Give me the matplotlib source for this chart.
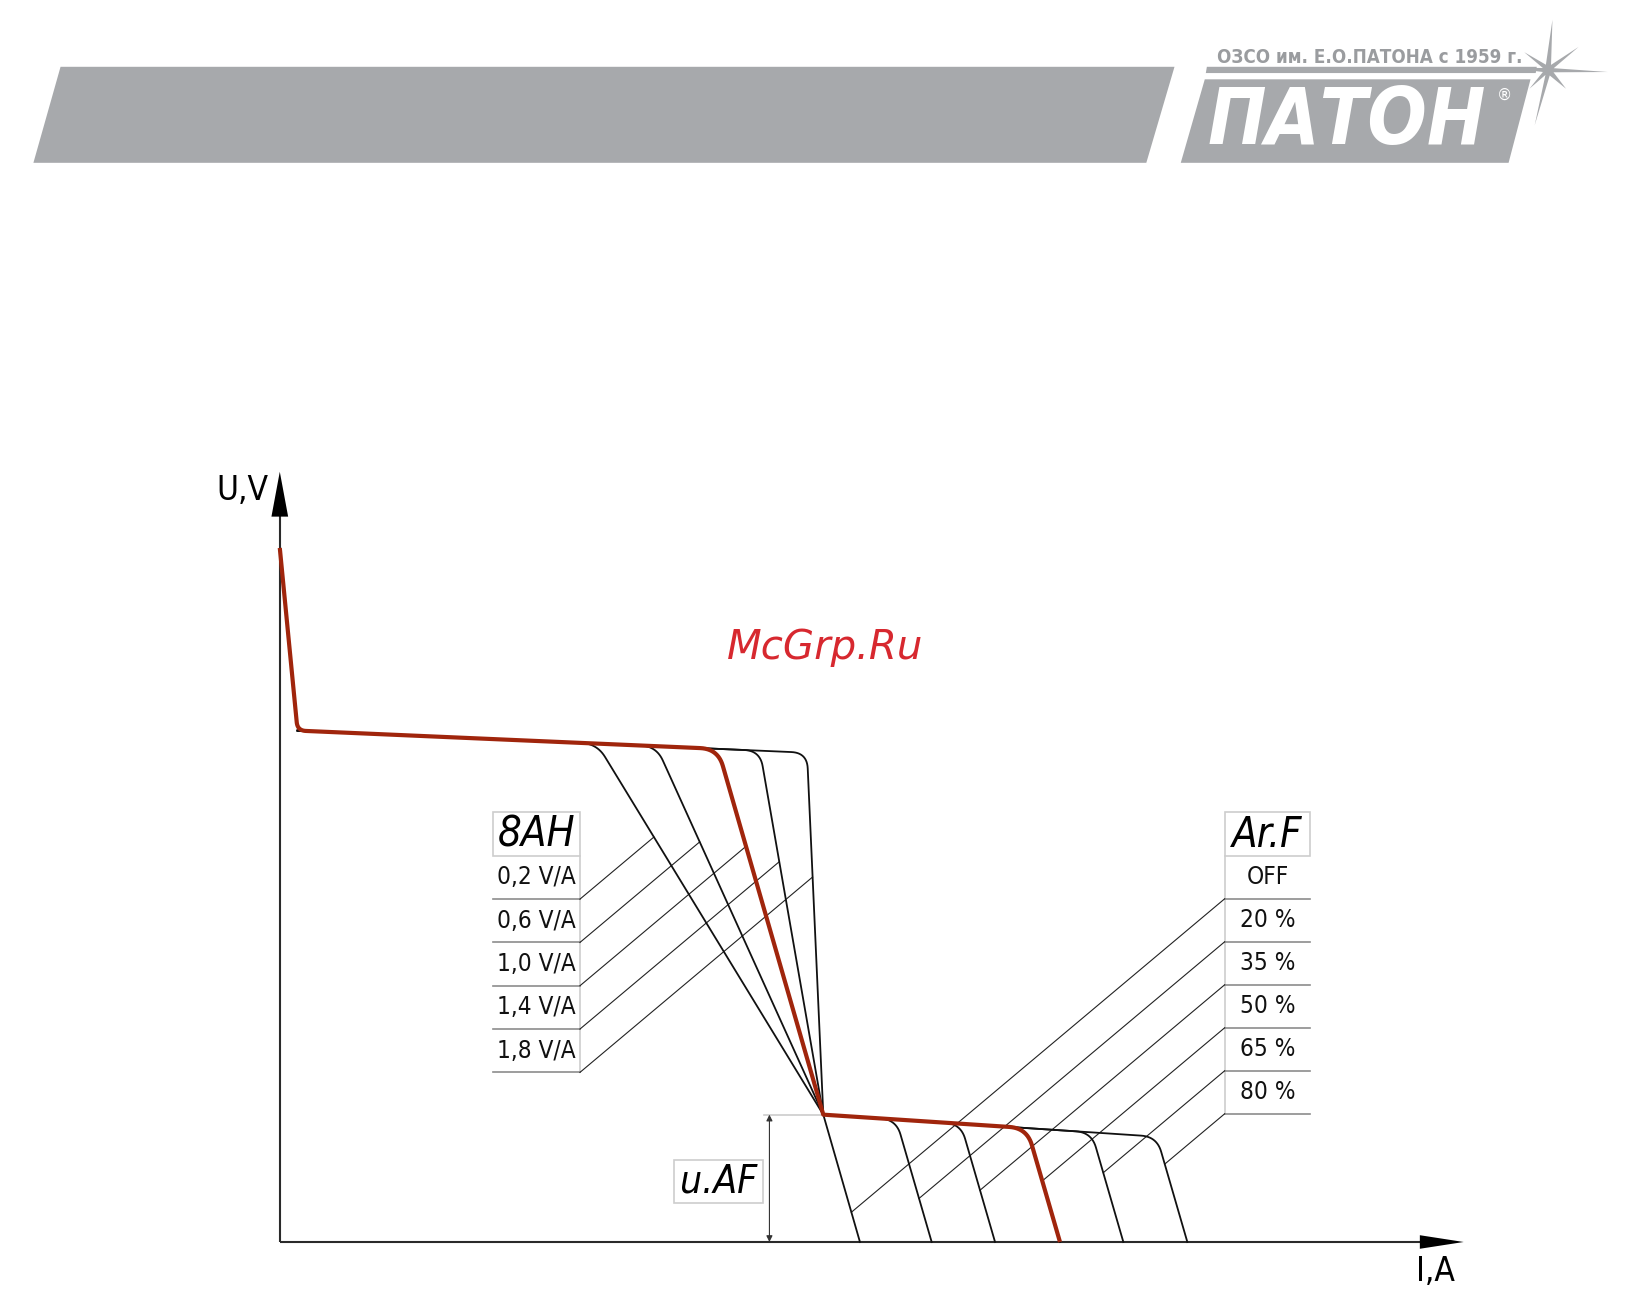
#!/usr/bin/env python3
from __future__ import annotations

import matplotlib

matplotlib.use("Agg")
import matplotlib.pyplot as plt
from matplotlib.patches import Polygon, Rectangle
import numpy as np


# Volt-ampere characteristic, in units along the I and U axes
U_OPEN = 66.5
TOP_START = (1.7, 49.0)
TOP_SLOPE = -0.0435
CROSS_POINT = (52.06, 12.2)
LOWER_SLOPE = -0.066
ARC_DI_DU = 0.29

DROOP_LABELS = ["0,2 V/A", "0,6 V/A", "1,0 V/A", "1,4 V/A", "1,8 V/A"]
DROOP_DI_DU = [0.61, 0.453, 0.288, 0.174, 0.045]
ARC_LABELS = ["OFF", "20 %", "35 %", "50 %", "65 %", "80 %"]
ARC_END_I = [55.57, 62.44, 68.51, 74.73, 80.80, 86.93]
ACTIVE_DROOP = 2
ACTIVE_ARC = 3

I_TIP = 113.4
U_TIP = 73.8
X_LIM = (-26.8, 130.0)
Y_LIM = (-4.6, 119.0)

VAH_BOX = {"left": 20.4, "right": 28.75, "top": 41.2, "header": 37.0, "row": 4.15}
ARF_BOX = {"left": 90.5, "right": 98.7, "top": 41.2, "header": 37.0, "row": 4.12}
LEADER_SLOPE = 0.84

# header graphics
BAND = [(-23.6, 103.4), (-21.0, 112.6), (85.7, 112.6), (83.0, 103.4)]
LOGO_BOX = [(86.3, 103.4), (88.6, 111.4), (119.8, 111.4), (117.7, 103.4)]
LOGO_STRIP = [(88.7, 112.0), (88.8, 112.6), (120.4, 112.6), (120.3, 112.0)]
STAR_CENTER = (121.5, 112.3)
STAR_RAYS = [(0.4, 4.8), (2.9, 2.2), (5.7, -0.2), (1.7, -1.8), (-1.3, -5.3), (-1.8, -1.8), (-3.8, 0.2), (-2.3, 1.7)]

RED = "#A0250C"
GRAY = "#A7A9AC"
FONT = "DejaVu Sans"


def _rounded(points, radii, n=14):
    pts = np.asarray(points, dtype=float)
    out = [pts[0]]
    for k in range(1, len(pts) - 1):
        p0, p1, p2 = pts[k - 1], pts[k], pts[k + 1]
        r = radii[k]
        if r <= 0:
            out.append(p1)
            continue
        v1, v2 = p0 - p1, p2 - p1
        l1, l2 = np.hypot(*v1), np.hypot(*v2)
        r = min(r, l1 / 2, l2 / 2)
        a, b = p1 + v1 / l1 * r, p1 + v2 / l2 * r
        t = np.linspace(0, 1, n)[:, None]
        out.extend((1 - t) ** 2 * a + 2 * (1 - t) * t * p1 + t ** 2 * b)
    out.append(pts[-1])
    return np.array(out)


def _droop_corner(d):
    i0, u0 = TOP_START
    ic, uc = CROSS_POINT
    i = (ic - d * (u0 - TOP_SLOPE * i0 - uc)) / (1 + d * TOP_SLOPE)
    return i, u0 + TOP_SLOPE * (i - i0)


def _arc_corner(end):
    ic, uc = CROSS_POINT
    a = ARC_DI_DU
    i = (end - a * (uc - LOWER_SLOPE * ic)) / (1 + a * LOWER_SLOPE)
    return i, uc + LOWER_SLOPE * (i - ic)


def _arc_di_du(k):
    if k == 0:
        return (ARC_END_I[0] - CROSS_POINT[0]) / CROSS_POINT[1]
    return ARC_DI_DU


def _draw_header(ax):
    ax.add_patch(Polygon(BAND, closed=True, facecolor=GRAY, edgecolor="none"))
    ax.add_patch(Polygon(LOGO_BOX, closed=True, facecolor=GRAY, edgecolor="none"))
    ax.add_patch(Polygon(LOGO_STRIP, closed=True, facecolor=GRAY, edgecolor="none"))
    cx, cy = STAR_CENTER
    star = []
    angles = [np.arctan2(dy, dx) for dx, dy in STAR_RAYS]
    for k, (dx, dy) in enumerate(STAR_RAYS):
        star.append((cx + dx, cy + dy))
        mid = (angles[k] + angles[(k + 1) % len(angles)]) / 2
        if angles[(k + 1) % len(angles)] > angles[k]:
            mid += np.pi
        star.append((cx + 0.55 * np.cos(mid), cy + 0.55 * np.sin(mid)))
    ax.add_patch(Polygon(star, closed=True, facecolor=GRAY, edgecolor="none"))
    ax.text(104.4, 113.5, "ОЗСО им. Е.О.ПАТОНА с 1959 г.", family=FONT, fontstretch="condensed",
            fontweight="bold", fontsize=13.5, color="#9A9C9F", ha="center", va="center")
    ax.text(102.2, 107.3, "ПАТОН", family=FONT, fontstretch="condensed", fontweight="bold",
            style="italic", fontsize=56, color="white", ha="center", va="center")
    ax.text(117.3, 109.9, "®", family=FONT, fontsize=11, color="white", ha="center", va="center")


def _draw_axes(ax):
    ax.plot([0, 0], [0, U_TIP - 4.0], color="#2A2A2A", lw=1.5, solid_capstyle="butt", zorder=2)
    ax.plot([0, I_TIP - 4.0], [0, 0], color="#2A2A2A", lw=1.5, solid_capstyle="butt", zorder=2)
    ax.add_patch(Polygon([(0, U_TIP), (-0.8, U_TIP - 4.3), (0.8, U_TIP - 4.3)], closed=True,
                         facecolor="black", edgecolor="none", zorder=3))
    ax.add_patch(Polygon([(I_TIP, 0), (I_TIP - 4.2, 0.65), (I_TIP - 4.2, -0.65)], closed=True,
                         facecolor="black", edgecolor="none", zorder=3))
    ax.text(-3.6, 72.0, "U,V", family=FONT, fontstretch="condensed", fontsize=24, ha="center", va="center")
    ax.text(110.7, -2.8, "I,A", family=FONT, fontstretch="condensed", fontsize=24, ha="center", va="center")


def _draw_curves(ax):
    for d in DROOP_DI_DU:
        pts = _rounded([TOP_START, _droop_corner(d), CROSS_POINT], [0, 1.5, 0])
        ax.plot(pts[:, 0], pts[:, 1], color="#111111", lw=1.3, zorder=4)
    for k, end in enumerate(ARC_END_I):
        if k == 0:
            pts = np.array([CROSS_POINT, (end, 0.0)])
        else:
            pts = _rounded([CROSS_POINT, _arc_corner(end), (end, 0.0)], [0, 1.5, 0])
        ax.plot(pts[:, 0], pts[:, 1], color="#111111", lw=1.3, zorder=4)

    red = _rounded(
        [(0.0, U_OPEN), TOP_START, _droop_corner(DROOP_DI_DU[ACTIVE_DROOP]), CROSS_POINT,
         _arc_corner(ARC_END_I[ACTIVE_ARC]), (ARC_END_I[ACTIVE_ARC], 0.0)],
        [0, 0.8, 1.7, 0, 1.7, 0],
    )
    ax.plot(red[:, 0], red[:, 1], color=RED, lw=3.0, zorder=5, solid_capstyle="butt")


def _draw_table(ax, box, labels, header, vertical_at):
    left, right, top, hdr, row = box["left"], box["right"], box["top"], box["header"], box["row"]
    ax.add_patch(Rectangle((left, hdr), right - left, top - hdr, facecolor="white",
                           edgecolor="#CDCDCD", lw=1.2, zorder=3))
    ax.text((left + right) / 2, (top + hdr) / 2 - 0.1, header, family=FONT, fontstretch="condensed",
            fontweight="light", style="italic", fontsize=30, ha="center", va="center", zorder=4)
    bottom = hdr - row * len(labels)
    ax.plot([vertical_at, vertical_at], [hdr, bottom], color="#CDCDCD", lw=1.2, zorder=3)
    bottoms = []
    for k, label in enumerate(labels):
        yb = hdr - row * (k + 1)
        bottoms.append(yb)
        ax.plot([left, right], [yb, yb], color="#8C8C8C", lw=1.2, zorder=3)
        ax.text((left + right) / 2, yb + row / 2, label, family=FONT, fontstretch="condensed",
                fontsize=17.5, color="#111111", ha="center", va="center", zorder=4)
    return bottoms


def _draw_leaders(ax):
    ic, uc = CROSS_POINT
    m = LEADER_SLOPE
    x0 = VAH_BOX["right"]
    bottoms = _draw_table(ax, VAH_BOX, DROOP_LABELS, "8AH", x0)
    for d, y0 in zip(DROOP_DI_DU, bottoms):
        i = (ic - d * (y0 - m * x0 - uc)) / (1 + d * m)
        ax.plot([x0, i], [y0, y0 + m * (i - x0)], color="#222222", lw=0.8, zorder=3)

    x0 = ARF_BOX["left"]
    bottoms = _draw_table(ax, ARF_BOX, ARC_LABELS, "Ar.F", x0)
    for k, (end, y0) in enumerate(zip(ARC_END_I, bottoms)):
        a = _arc_di_du(k)
        i = (end - a * (y0 - m * x0)) / (1 + a * m)
        ax.plot([x0, i], [y0, y0 + m * (i - x0)], color="#222222", lw=0.8, zorder=3)


def _draw_uaf(ax):
    ic, uc = CROSS_POINT
    ax.add_patch(Rectangle((37.8, 3.7), 8.5, 4.2, facecolor="white", edgecolor="#CDCDCD", lw=1.2, zorder=3))
    ax.text(42.05, 5.75, "u.AF", family=FONT, fontstretch="condensed", fontweight="light", style="italic",
            fontsize=28, ha="center", va="center", zorder=4)
    ax.plot([46.4, ic], [uc, uc], color="#CCCCCC", lw=1.2, zorder=2)
    ax.annotate("", xy=(46.9, 0.0), xytext=(46.9, uc),
                arrowprops=dict(arrowstyle="<|-|>", color="#333333", lw=0.8, mutation_scale=9,
                                shrinkA=0, shrinkB=0), zorder=3)


def main() -> None:
    fig = plt.figure(figsize=(16.37, 12.90), dpi=100)
    fig.patch.set_facecolor("white")
    ax = fig.add_axes([0, 0, 1, 1])
    ax.set_xlim(*X_LIM)
    ax.set_ylim(*Y_LIM)
    ax.axis("off")

    _draw_header(ax)
    _draw_axes(ax)
    _draw_leaders(ax)
    _draw_uaf(ax)
    _draw_curves(ax)
    ax.text(52.2, 57.0, "McGrp.Ru", family=FONT, style="italic", fontsize=29, color="#D7282F",
            ha="center", va="center", zorder=6)

    fig.savefig("out.png", dpi=100)
    plt.close(fig)


if __name__ == "__main__":
    main()
